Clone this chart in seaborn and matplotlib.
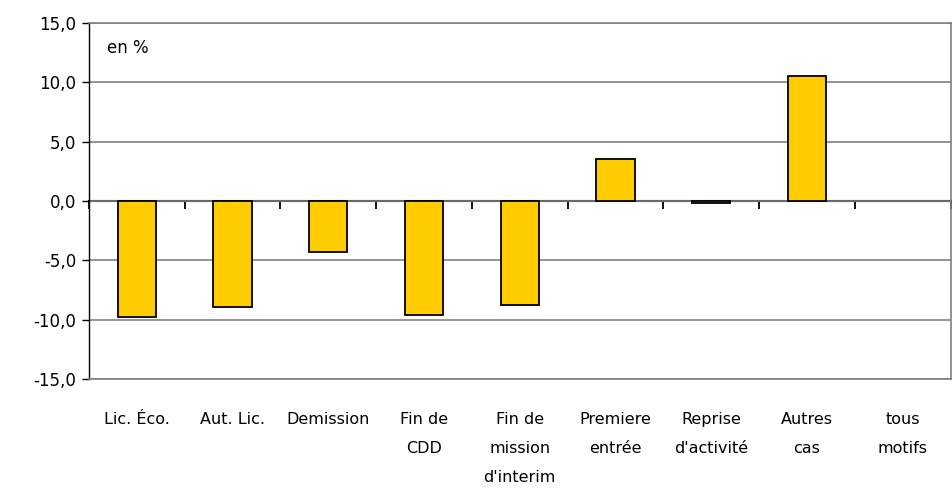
import pandas as pd
import seaborn as sns
import matplotlib.pyplot as plt
from matplotlib.ticker import FuncFormatter


categories = ['Lic. Éco.', 'Aut. Lic.', 'Demission', 'Fin de\nCDD', 'Fin de\nmission\nd\'interim',
              'Premiere\nentrée', 'Reprise\nd\'activité', 'Autres\ncas', 'tous\nmotifs']
values = [-9.8, -8.9, -4.3, -9.6, -8.8, 3.5, -0.2, 10.5, 0.0]
yticks = [-15, -10, -5, 0, 5, 10, 15]

df = pd.DataFrame({'motif': categories, 'val': values})

sns.set_style('white')
plt.rcParams['font.family'] = ['DejaVu Sans']
plt.rcParams['text.color'] = 'black'
plt.rcParams['xtick.color'] = 'black'
plt.rcParams['ytick.color'] = 'black'

fig = plt.figure(figsize=(9.52, 4.99), dpi=100)
ax = fig.add_axes([0.0935, 0.2405, 0.905, 0.7134])

sns.barplot(data=df, x='motif', y='val', color='#FFCC00', width=0.4,
            edgecolor='black', linewidth=1.3, saturation=1, ax=ax, zorder=3)
# Excel draws nothing for an empty bar
for p in ax.patches:
    if p.get_height() == 0:
        p.set_linewidth(0)

ax.set_ylim(-15, 15)
ax.set_xlim(-0.5, len(categories) - 0.5)
ax.set_yticks(yticks)
ax.yaxis.set_major_formatter(FuncFormatter(lambda v, p: f'{v:.1f}'.replace('.', ',')))
ax.grid(axis='y', color='#808080', linewidth=1.2, zorder=0)
ax.set_xlabel('')
ax.set_ylabel('')

for s in ['top', 'right', 'bottom']:
    ax.spines[s].set_color('#808080')
    ax.spines[s].set_linewidth(1.2)
ax.spines['left'].set_color('black')
ax.spines['left'].set_linewidth(1.0)

ax.tick_params(axis='y', length=5, width=1, direction='out', left=True, labelsize=12, pad=4)
ax.tick_params(axis='x', length=0, labelsize=11.5, pad=24)
for t in ax.get_xticklabels():
    t.set_verticalalignment('top')
    t.set_linespacing(2.15)

# zero line with category separators, Excel style
zero = ax.secondary_xaxis(0.5)
for s in zero.spines.values():
    s.set_color('black')
    s.set_linewidth(1.5)
zero.set_xticks([i - 0.5 for i in range(len(categories) + 1)])
zero.tick_params(axis='x', which='both', length=6, width=1.3, direction='in',
                 top=True, bottom=False, labeltop=False, labelbottom=False)

ax.text(0.021, 0.93, 'en %', transform=ax.transAxes, fontsize=12, va='center')

plt.savefig('out.png', dpi=100)
